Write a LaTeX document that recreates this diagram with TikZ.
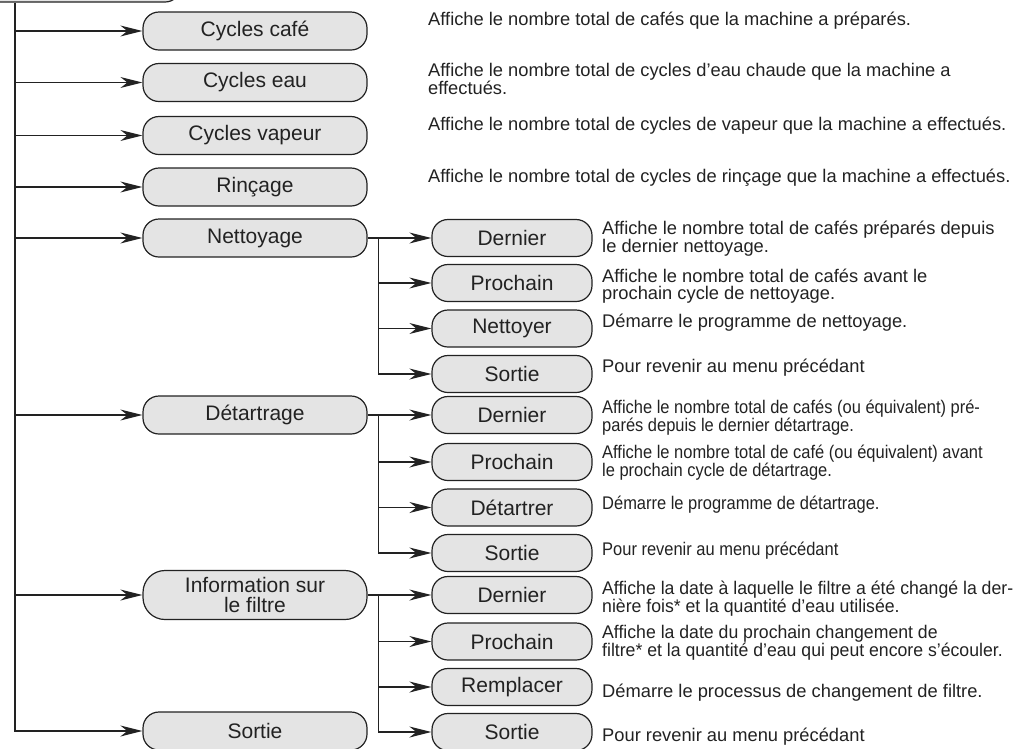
\documentclass[tikz,border=0pt]{standalone}
\usepackage{fontspec}
\setmainfont{Liberation Sans}
\newfontfamily\narrowfont[FakeStretch=0.9]{Liberation Sans}
\newfontfamily\slimfont[FakeStretch=0.965]{Liberation Sans}
\usetikzlibrary{arrows.meta}
\definecolor{boxfill}{HTML}{E4E4E4}
\definecolor{ink}{HTML}{222222}
\newcommand\fl{\rule{0pt}{14.5pt}}
\begin{document}
\begin{tikzpicture}[x=1pt,y=-1pt,
  menubox/.style={draw=ink, fill=boxfill, line width=1.2pt, rounded corners=16pt,
    minimum width=224pt, minimum height=38pt, inner sep=0pt,
    font=\fontsize{21}{20}\selectfont, text=ink, align=center},
  subbox/.style={menubox, minimum width=160pt, minimum height=37pt},
  desc/.style={anchor=north west, inner sep=0pt, yshift=14.5pt, align=left, text=ink,
    font=\fontsize{18.3}{17}\selectfont},
  descn/.style={desc, font=\narrowfont\fontsize{18.3}{17}\selectfont},
  descs/.style={desc, font=\slimfont\fontsize{18.3}{17}\selectfont},
  conn/.style={draw=ink, line width=1.2pt},
  arr/.style={conn, -{Stealth[length=22pt,width=11pt,inset=7pt]}},
]
\useasboundingbox (0,0) rectangle (1018,748);

% top (cut-off) node
\node[menubox, minimum width=332pt, minimum height=40pt] (top) at (15,-18) {};

% main menu
\node[menubox] (cafe) at (255,31) {Cycles café};
\node[menubox] (eau) at (255,82.5) {Cycles eau};
\node[menubox] (vap) at (255,135.5) {Cycles vapeur};
\node[menubox] (rin) at (255,187) {Rinçage};
\node[menubox] (net) at (255,238) {Nettoyage};
\node[menubox] (det) at (255,415) {Détartrage};
\node[menubox, minimum height=49pt, rounded corners=22pt] (info) at (255,595) {Information sur\\le filtre};
\node[menubox] (sortie) at (255,731) {Sortie};

% sub menus
\node[subbox] (nd) at (512,238) {Dernier};
\node[subbox] (np) at (512,283) {Prochain};
\node[subbox] (nn) at (512,328.5) {Nettoyer};
\node[subbox] (ns) at (512,374) {Sortie};

\node[subbox] (dd) at (512,415) {Dernier};
\node[subbox] (dp) at (512,462) {Prochain};
\node[subbox] (dt) at (512,507.5) {Détartrer};
\node[subbox] (ds) at (512,553) {Sortie};

\node[subbox] (fd) at (512,595) {Dernier};
\node[subbox] (fp) at (512,641.5) {Prochain};
\node[subbox] (fr) at (512,687) {Remplacer};
\node[subbox] (fs) at (512,732) {Sortie};

% descriptions of main menu
\node[desc] (dcafe) at (428,25) {\fl Affiche le nombre total de cafés que la machine a préparés.};
\node[desc] (deau) at (428,76) {\fl Affiche le nombre total de cycles d’eau chaude que la machine a\\effectués.};
\node[desc] (dvap) at (428,130) {\fl Affiche le nombre total de cycles de vapeur que la machine a effectués.};
\node[desc] (drin) at (428,182) {\fl Affiche le nombre total de cycles de rinçage que la machine a effectués.};

% descriptions Nettoyage
\node[desc] (tnd) at (602,234) {\fl Affiche le nombre total de cafés préparés depuis\\le dernier nettoyage.};
\node[desc] (tnp) at (602,282) {\fl Affiche le nombre total de cafés avant le\\prochain cycle de nettoyage.};
\node[desc] (tnn) at (602,327) {\fl Démarre le programme de nettoyage.};
\node[desc] (tns) at (602,372) {\fl Pour revenir au menu précédant};

% descriptions Détartrage
\node[descn] (tdd) at (602,413) {\fl Affiche le nombre total de cafés (ou équivalent) pré-\\parés depuis le dernier détartrage.};
\node[descn] (tdp) at (602,458) {\fl Affiche le nombre total de café (ou équivalent) avant\\le prochain cycle de détartrage.};
\node[descn] (tdt) at (602,509) {\fl Démarre le programme de détartrage.};
\node[descn] (tds) at (602,555) {\fl Pour revenir au menu précédant};

% descriptions filtre
\node[descs] (tfd) at (602,594) {\fl Affiche la date à laquelle le filtre a été changé la der-\\nière fois* et la quantité d’eau utilisée.};
\node[descs] (tfp) at (602,638) {\fl Affiche la date du prochain changement de\\filtre* et la quantité d’eau qui peut encore s’écouler.};
\node[desc] (tfr) at (602,697) {\fl Démarre le processus de changement de filtre.};
\node[desc] (tfs) at (602,741) {\fl Pour revenir au menu précédant};

% main connectors
\draw[arr] (top.south) |- (sortie.west);
\foreach \m in {cafe,eau,vap,rin,net,det,info}
  \draw[arr] (top.south |- \m.west) -- (\m.west);

% Nettoyage branch
\coordinate (nj) at ([xshift=11pt]net.east);
\draw[arr] (net.east) -- (nd.west);
\draw[arr] (nj) |- (ns.west);
\draw[arr] (nj |- np.west) -- (np.west);
\draw[arr] (nj |- nn.west) -- (nn.west);

% Détartrage branch
\coordinate (dj) at ([xshift=11pt]det.east);
\draw[arr] (det.east) -- (dd.west);
\draw[arr] (dj) |- (ds.west);
\draw[arr] (dj |- dp.west) -- (dp.west);
\draw[arr] (dj |- dt.west) -- (dt.west);

% filtre branch
\coordinate (fj) at ([xshift=11pt]info.east);
\draw[arr] (info.east) -- (fd.west);
\draw[arr] (fj) |- (fs.west);
\draw[arr] (fj |- fp.west) -- (fp.west);
\draw[arr] (fj |- fr.west) -- (fr.west);
\end{tikzpicture}
\end{document}
